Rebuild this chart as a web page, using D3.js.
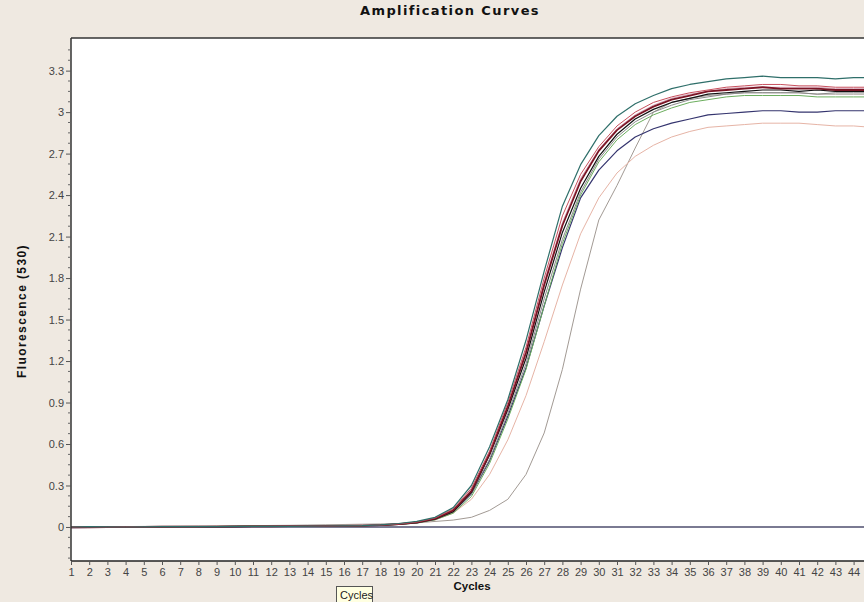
<!DOCTYPE html>
<html><head><meta charset="utf-8">
<script src="https://cdn.jsdelivr.net/npm/d3@7"></script>
<style>
html,body{margin:0;padding:0;background:#efe9e1;}
svg{display:block;}
</style></head>
<body>
<svg id="chart" width="864" height="602"></svg>
<script>
const cycles = [1,2,3,4,5,6,7,8,9,10,11,12,13,14,15,16,17,18,19,20,21,22,23,24,25,26,27,28,29,30,31,32,33,34,35,36,37,38,39,40,41,42,43,44,45];

const tealSeries = [0.000,0.002,0.001,0.000,0.001,0.002,0.002,0.003,0.003,0.004,0.004,0.005,0.005,0.006,0.007,0.008,0.010,0.015,0.025,0.040,0.070,0.140,0.300,0.580,0.920,1.350,1.850,2.320,2.620,2.830,2.970,3.060,3.120,3.170,3.200,3.220,3.240,3.250,3.260,3.250,3.250,3.250,3.240,3.250,3.250];
const redSeries = [0.000,0.001,0.000,0.001,0.001,0.002,0.003,0.003,0.004,0.004,0.005,0.005,0.006,0.007,0.007,0.008,0.010,0.014,0.022,0.036,0.065,0.130,0.280,0.550,0.900,1.300,1.800,2.250,2.550,2.750,2.900,3.000,3.070,3.110,3.140,3.160,3.180,3.190,3.200,3.200,3.190,3.190,3.180,3.180,3.180];
const darkRedSeries = [-0.003,-0.002,0.000,0.001,0.001,0.002,0.002,0.003,0.003,0.004,0.004,0.005,0.006,0.006,0.007,0.008,0.010,0.014,0.021,0.034,0.060,0.120,0.260,0.530,0.870,1.260,1.750,2.180,2.500,2.720,2.870,2.970,3.040,3.090,3.120,3.150,3.160,3.170,3.180,3.170,3.170,3.170,3.160,3.160,3.160];
const pinkSeries = [0.000,0.001,0.001,0.001,0.002,0.002,0.003,0.003,0.004,0.004,0.005,0.005,0.006,0.006,0.007,0.009,0.011,0.015,0.022,0.035,0.062,0.120,0.270,0.540,0.880,1.280,1.770,2.200,2.520,2.730,2.880,2.980,3.050,3.100,3.130,3.150,3.170,3.180,3.180,3.180,3.180,3.180,3.170,3.170,3.170];
const blackSeries = [-0.002,-0.001,-0.001,0.000,0.001,0.001,0.002,0.002,0.003,0.003,0.004,0.005,0.005,0.006,0.006,0.007,0.009,0.013,0.020,0.032,0.057,0.110,0.250,0.520,0.850,1.220,1.700,2.130,2.450,2.680,2.840,2.950,3.020,3.070,3.100,3.130,3.140,3.150,3.160,3.160,3.150,3.160,3.150,3.150,3.150];
const graySeries = [0.001,0.001,0.000,0.001,0.001,0.002,0.002,0.003,0.003,0.003,0.004,0.004,0.005,0.005,0.006,0.007,0.009,0.012,0.019,0.030,0.054,0.110,0.240,0.490,0.820,1.180,1.650,2.080,2.420,2.660,2.820,2.930,3.000,3.050,3.090,3.110,3.130,3.140,3.140,3.140,3.140,3.130,3.140,3.140,3.140];
const greenSeries = [0.000,0.001,0.001,0.001,0.002,0.002,0.003,0.003,0.004,0.005,0.010,0.006,0.005,0.006,0.006,0.007,0.009,0.012,0.018,0.029,0.052,0.100,0.220,0.460,0.780,1.140,1.600,2.050,2.400,2.640,2.800,2.910,2.980,3.030,3.070,3.090,3.110,3.120,3.120,3.120,3.120,3.110,3.110,3.110,3.110];
const navySeries = [-0.004,-0.003,-0.002,0.000,0.001,0.001,0.002,0.002,0.003,0.003,0.004,0.004,0.005,0.005,0.006,0.007,0.009,0.012,0.019,0.030,0.054,0.110,0.240,0.480,0.800,1.150,1.600,2.020,2.380,2.580,2.720,2.820,2.880,2.920,2.950,2.980,2.990,3.000,3.010,3.010,3.000,3.000,3.010,3.010,3.010];
const salmonSeries = [0.000,0.000,0.000,0.001,0.001,0.001,0.002,0.002,0.003,0.003,0.004,0.004,0.005,0.005,0.006,0.007,0.009,0.012,0.018,0.028,0.050,0.100,0.200,0.380,0.630,0.950,1.340,1.750,2.120,2.380,2.560,2.680,2.760,2.820,2.860,2.890,2.900,2.910,2.920,2.920,2.920,2.910,2.900,2.900,2.890];
const lateGraySeries = [0.000,0.001,0.002,0.003,0.004,0.005,0.006,0.007,0.008,0.009,0.010,0.011,0.012,0.014,0.016,0.018,0.020,0.022,0.025,0.030,0.040,0.050,0.070,0.120,0.200,0.380,0.680,1.140,1.720,2.220,2.470,2.740,3.000,3.070,3.100,3.120,3.130,3.140,3.140,3.140,3.140,3.130,3.130,3.130,3.130];

const seriesNames = ["lateGray","salmon","navy","green","gray","pink","black","darkRed","red","teal"];
const seriesColors = ["#a29a94","#e6b4a6","#34346e","#6cae5e","#8a8a8a","#d9a9bb","#111111","#7a1424","#c8505e","#2f6f6a"];
const seriesWidths = [1,1,1.2,1,1,1,1.2,1.8,1,1.2];
const seriesValues = [lateGraySeries,salmonSeries,navySeries,greenSeries,graySeries,pinkSeries,blackSeries,darkRedSeries,redSeries,tealSeries];

const yTickValues = [0,0.3,0.6,0.9,1.2,1.5,1.8,2.1,2.4,2.7,3,3.3];
const yTickLabels = ["0","0.3","0.6","0.9","1.2","1.5","1.8","2.1","2.4","2.7","3","3.3"];
const xTickValues = cycles.slice(0, 44);

const titleText = "Amplification Curves";
const xTitle = "Cycles";
const yTitle = "Fluorescence (530)";
const tooltipText = "Cycles";

(function draw() {
const svg = d3.select("#chart");
const W = 864, H = 602;
const pLeft = 71, pTop = 38, pBottom = 561;
const x = d3.scaleLinear().domain([1, 45]).range([pLeft, pLeft + 44 * 18.2]);
const y = d3.scaleLinear().domain([-0.246, 3.536]).range([pBottom, pTop]);

svg.append("rect").attr("width", W).attr("height", H).attr("fill", "#efe9e1");
svg.append("rect").attr("x", pLeft).attr("y", pTop).attr("width", W - pLeft + 20).attr("height", pBottom - pTop).attr("fill", "#ffffff");

svg.append("defs").append("clipPath").attr("id", "plotclip")
  .append("rect").attr("x", pLeft).attr("y", pTop).attr("width", W - pLeft + 20).attr("height", pBottom - pTop);

const plot = svg.append("g").attr("clip-path", "url(#plotclip)");

plot.append("line").attr("x1", pLeft).attr("x2", W + 10)
  .attr("y1", y(0)).attr("y2", y(0)).attr("stroke", "#4e4e6e").attr("stroke-width", 1.4);

const line = d3.line().x((d, i) => x(cycles[i])).y(d => y(d));
seriesValues.forEach((vals, k) => {
  plot.append("path").datum(vals).attr("d", line).attr("fill", "none")
    .attr("stroke", seriesColors[k]).attr("stroke-width", seriesWidths[k])
    .attr("stroke-linejoin", "round").attr("class", "series-" + seriesNames[k]);
});

const font = "'Liberation Sans', Arial, sans-serif";
const yAxis = d3.axisLeft(y).tickValues(yTickValues).tickFormat((d, i) => yTickLabels[i]).tickSize(5).tickPadding(2);
const gy = svg.append("g").attr("transform", `translate(${pLeft},0)`).call(yAxis);
gy.select(".domain").attr("d", `M0,${pTop}V${pBottom}`).attr("stroke", "#333").attr("stroke-width", 1.5);
gy.selectAll(".tick line").attr("stroke", "#555");
gy.selectAll(".tick text").attr("font-family", font).attr("font-size", 11).attr("fill", "#444");

const minorY = d3.range(-0.225, 3.52, 0.075).filter(v => Math.abs(Math.round(v / 0.3) * 0.3 - v) > 0.01);
svg.append("g").selectAll("line").data(minorY).join("line")
  .attr("x1", pLeft - 3).attr("x2", pLeft).attr("y1", d => y(d)).attr("y2", d => y(d))
  .attr("stroke", "#666").attr("stroke-width", 1);

const xAxis = d3.axisBottom(x).tickValues(xTickValues).tickFormat(d3.format("d")).tickSize(4).tickPadding(3);
const gx = svg.append("g").attr("transform", `translate(0,${pBottom})`).call(xAxis);
gx.select(".domain").attr("d", `M${pLeft},0H${W + 10}`).attr("stroke", "#222").attr("stroke-width", 1.5);
gx.selectAll(".tick line").attr("stroke", "#555");
gx.selectAll(".tick text").attr("font-family", font).attr("font-size", 11).attr("fill", "#444");

svg.append("line").attr("x1", pLeft).attr("x2", W + 10).attr("y1", pTop).attr("y2", pTop)
  .attr("stroke", "#333").attr("stroke-width", 1.5);

svg.append("text").attr("x", 450).attr("y", 15).attr("text-anchor", "middle")
  .attr("font-family", "Verdana, 'DejaVu Sans', sans-serif").attr("font-weight", "bold").attr("font-size", 13)
  .attr("letter-spacing", 1.4).attr("fill", "#111").text(titleText);
svg.append("text").attr("x", 472).attr("y", 590).attr("text-anchor", "middle")
  .attr("font-family", font).attr("font-weight", "bold").attr("font-size", 11.5)
  .attr("fill", "#111").text(xTitle);
svg.append("text").attr("transform", "translate(26,311) rotate(-90)").attr("text-anchor", "middle")
  .attr("font-family", font).attr("font-weight", "bold").attr("font-size", 12)
  .attr("letter-spacing", 1.4).attr("fill", "#111").text(yTitle);

const tip = svg.append("g").attr("transform", "translate(336,586)");
tip.append("rect").attr("x", 0.5).attr("y", 0.5).attr("width", 36).attr("height", 20)
  .attr("fill", "#ffffe1").attr("stroke", "#555");
tip.append("text").attr("x", 4).attr("y", 13).attr("font-family", font).attr("font-size", 11)
  .attr("fill", "#222").text(tooltipText);
})();
</script>
</body></html>
